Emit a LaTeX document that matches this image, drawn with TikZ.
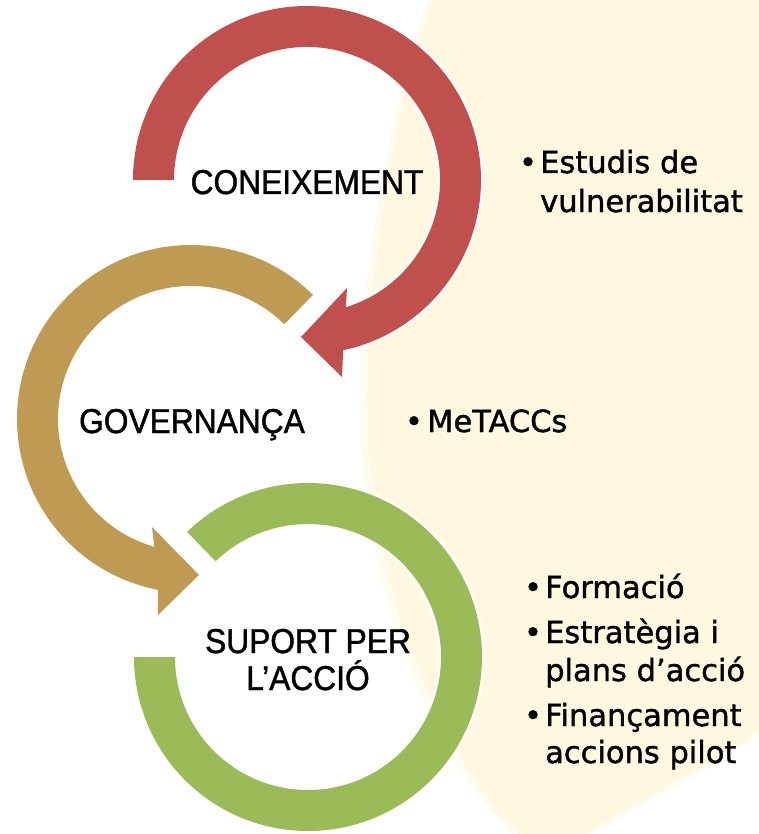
\documentclass[tikz,border=0pt]{standalone}
\usepackage{fontspec}
\setmainfont{Liberation Sans}
\newfontfamily\lblfont{Liberation Sans}[FakeBold=1.3,FakeStretch=0.92]
\newfontfamily\bulfont{DejaVu Sans}[FakeBold=1.2]
\usetikzlibrary{calc}
\definecolor{cream}{RGB}{254,248,224}
\definecolor{arred}{RGB}{192,80,77}
\definecolor{argold}{RGB}{190,154,82}
\definecolor{argreen}{RGB}{155,187,89}
\begin{document}
\begin{tikzpicture}[x=1pt,y=1pt,
  arrowshape/.style={preaction={draw=white,line width=5pt,line join=miter}},
  lbl/.style={font=\lblfont\fontsize{34.5}{38}\selectfont, anchor=base, inner sep=0pt, text=black},
  bul/.style={font=\bulfont\fontsize{30.5}{38}\selectfont, anchor=base west, inner sep=0pt, text=black},
  dot/.style={font=\bulfont\fontsize{30.5}{38}\selectfont, anchor=base, inner sep=0pt, text=black},
]
\useasboundingbox (0,0) rectangle (759,-834);
\begin{scope}
  \clip (0,0) rectangle (759,-834);
  \fill[cream!45] (428,5) .. controls (386,-130) and (354,-300) .. (360,-430) .. controls (367,-600) and (434,-763) .. (518,-840) -- (582,-840) .. controls (646,-803) and (716,-768) .. (765,-726) -- (765,5) -- cycle;
  \fill[cream] (433,5) .. controls (391,-130) and (362,-300) .. (368,-430) .. controls (375,-600) and (442,-760) .. (525,-840) -- (575,-840) .. controls (640,-800) and (710,-765) .. (765,-730) -- (765,5) -- cycle;
\end{scope}

\coordinate (c1) at (307,-180);
\coordinate (c2) at (191,-419);
\coordinate (c3) at (308,-657);

% red arrow
\fill[arred, arrowshape] ($(c1)+(180:174)$) arc[start angle=180, end angle=-78, radius=174]
  -- (342,-377) -- (301,-337) -- (347,-288)
  -- ($(c1)+(-73:133)$) arc[start angle=-73, end angle=180, radius=133] -- cycle;

% gold arrow
\fill[argold, arrowshape] ($(c2)+(45.5:174)$) arc[start angle=45.5, end angle=259, radius=174]
  -- (158,-615) -- (199,-575) -- (152,-527)
  -- ($(c2)+(254:133)$) arc[start angle=254, end angle=45.5, radius=133] -- cycle;

% green ring
\fill[argreen, arrowshape] ($(c3)+(134:174)$) arc[start angle=134, end angle=-180, radius=174]
  -- ($(c3)+(180:133)$) arc[start angle=-180, end angle=134, radius=133] -- cycle;

% labels
\node[lbl] (k1) at (307,-194) {CONEIXEMENT};
\node[lbl] (k2) at (192,-433) {GOVERNANÇA};
\node[lbl] (k3a) at (308,-653) {SUPORT PER};
\node[lbl] (k3b) at (308,-690) {L’ACCIÓ};

% bullets
\node[dot] (d1) at (528,-173) {•};
\node[bul] (t1a) at (540,-173) {Estudis de};
\node[bul] (t1b) at (540,-212) {vulnerabilitat};

\node[dot] (d2) at (414,-432) {•};
\node[bul] (t2) at (427,-432) {MeTACCs};

\node[dot] (d3) at (533,-598) {•};
\node[bul] (t3) at (545,-598) {Formació};
\node[dot] (d4) at (533,-643) {•};
\node[bul] (t4a) at (545,-643) {Estratègia i};
\node[bul] (t4b) at (545,-681) {plans d’acció};
\node[dot] (d5) at (533,-726) {•};
\node[bul] (t5a) at (545,-726) {Finançament};
\node[bul] (t5b) at (545,-763) {accions pilot};
\end{tikzpicture}
\end{document}
